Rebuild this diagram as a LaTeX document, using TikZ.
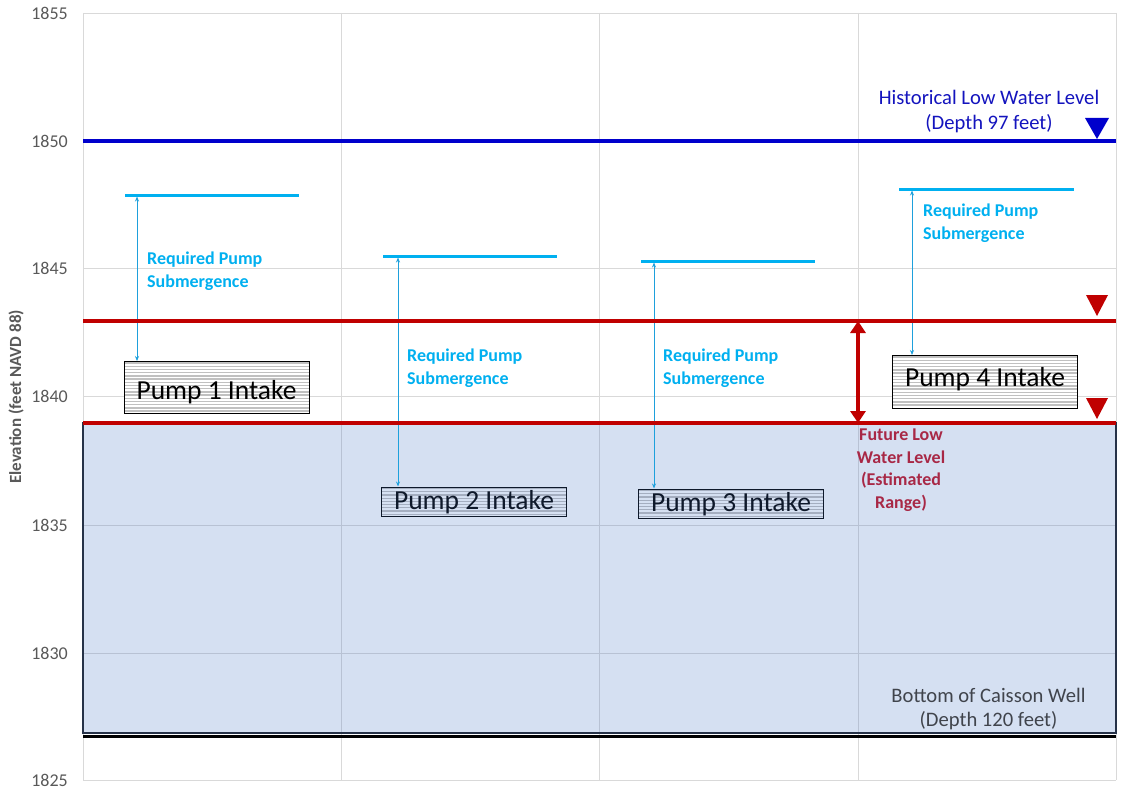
\documentclass[tikz,border=0pt]{standalone}
\usepackage{fontspec}
\setmainfont{Carlito}
\usetikzlibrary{arrows.meta}
\definecolor{gridc}{RGB}{217,217,217}
\definecolor{tickc}{RGB}{89,89,89}
\definecolor{cyanc}{RGB}{0,176,240}
\definecolor{arrowc}{RGB}{30,160,220}
\definecolor{redc}{RGB}{192,0,0}
\definecolor{bluec}{RGB}{0,0,204}
\definecolor{histc}{RGB}{20,20,190}
\definecolor{waterc}{RGB}{68,114,196}
\definecolor{futurec}{RGB}{168,40,70}
\definecolor{edgec}{RGB}{38,50,72}
\definecolor{bottomc}{RGB}{64,68,76}
\definecolor{hatchc}{RGB}{192,192,192}
\begin{document}
\begin{tikzpicture}[x=1pt,y=-1pt,
  grid/.style={gridc, line width=0.9pt},
  ticklabel/.style={anchor=east, inner sep=0pt, text=tickc, font=\fontsize{18}{20}\selectfont},
  pumpbox/.style={draw=black, line width=1pt, minimum width=185pt, inner sep=0pt, fill=white,
    font=\fontsize{27.5}{29}\selectfont,
    path picture={\foreach \k in {0,...,18}{\draw[hatchc,line width=1.3pt] ([yshift={-1.6pt-\k*3.2pt}]path picture bounding box.north west) -- ++(200,0);}}},
  subline/.style={cyanc, line width=3pt},
  subarrow/.style={arrowc, line width=0.8pt, {Stealth[length=5pt,width=4pt]}-{Stealth[length=5pt,width=4pt]}},
  sublabel/.style={anchor=west, inner sep=0pt, align=left, text=cyanc, font=\fontsize{18}{23}\selectfont\bfseries},
  redline/.style={redc, line width=4pt},
  tri/.style={fill=#1, draw=none}
]
\useasboundingbox (0,0) rectangle (1126,797);
\fill[white] (0,0) rectangle (1126,797);

% grid
\foreach \y in {13,141,268,396,525,653,780} \draw[grid] (83,\y) -- (1116,\y);
\foreach \x in {83,341,599,858,1116} \draw[grid] (\x,13) -- (\x,780);

% tick labels
\node[ticklabel] (t1855) at (68,13) {1855};
\node[ticklabel] (t1850) at (68,141) {1850};
\node[ticklabel] (t1845) at (68,268) {1845};
\node[ticklabel] (t1840) at (68,396) {1840};
\node[ticklabel] (t1835) at (68,525) {1835};
\node[ticklabel] (t1830) at (68,653) {1830};
\node[ticklabel] (t1825) at (68,780) {1825};
\node[rotate=90, inner sep=0pt, text=tickc, font=\fontsize{17}{19}\selectfont\bfseries] (ylab) at (16,397) {Elevation (feet NAVD 88)};

% submerged pump boxes
\node[pumpbox, text height=22pt, text depth=7pt] (pump2) at (474,501.5) {Pump 2 Intake};
\node[pumpbox, text height=22pt, text depth=7pt] (pump3) at (731,503.5) {Pump 3 Intake};

% water
\fill[waterc, fill opacity=0.22] (83,423) rectangle (1116,733);
\draw[edgec, line width=1.3pt] (83,423) rectangle (1116,733);
\coordinate (bl) at (83,736.5);
\coordinate (br) at (1116,736.5);
\draw[black, line width=3.5pt] (bl) -- (br);

% dry pump boxes
\node[pumpbox, text height=38pt, text depth=14pt] (pump1) at (216.5,387.5) {Pump 1 Intake};
\node[pumpbox, text height=31pt, text depth=22pt] (pump4) at (985,382) {Pump 4 Intake};

% required submergence lines
\coordinate (s1a) at (125,195); \coordinate (s1b) at (299,195);
\coordinate (s2a) at (383,256); \coordinate (s2b) at (557,256);
\coordinate (s3a) at (641,261); \coordinate (s3b) at (815,261);
\coordinate (s4a) at (899,189); \coordinate (s4b) at (1074,189);
\draw[subline] (s1a) -- (s1b);
\draw[subline] (s2a) -- (s2b);
\draw[subline] (s3a) -- (s3b);
\draw[subline] (s4a) -- (s4b);

\coordinate (a1) at (137,196.5); \coordinate (a2) at (398,257.5);
\coordinate (a3) at (654,262.5); \coordinate (a4) at (912,190.5);
\draw[subarrow] (a1) -- (a1 |- pump1.north);
\draw[subarrow] (a2) -- (a2 |- pump2.north);
\draw[subarrow] (a3) -- (a3 |- pump3.north);
\draw[subarrow] (a4) -- (a4 |- pump4.north);

\node[sublabel] (l1) at (147,271) {Required Pump\\Submergence};
\node[sublabel] (l2) at (407,368) {Required Pump\\Submergence};
\node[sublabel] (l3) at (663,368) {Required Pump\\Submergence};
\node[sublabel] (l4) at (923,223) {Required Pump\\Submergence};

% red levels
\coordinate (r1a) at (83,321); \coordinate (r1b) at (1116,321);
\coordinate (r2a) at (83,423); \coordinate (r2b) at (1116,423);
\draw[redline] (r1a) -- (r1b);
\draw[redline] (r2a) -- (r2b);
\coordinate (ra) at (858,321); \coordinate (rb) at (858,423);
\draw[redc, line width=4pt, {Triangle[width=15pt,length=12pt]}-{Triangle[width=15pt,length=12pt]}] (ra) -- (rb);
\fill[tri=redc] (1086,295) -- (1108,295) -- (1097,316) -- cycle;
\fill[tri=redc] (1086,398) -- (1108,398) -- (1097,419) -- cycle;

% blue level
\coordinate (ba) at (83,141); \coordinate (bb) at (1116,141);
\draw[bluec, line width=4pt] (ba) -- (bb);
\fill[tri=bluec] (1085,118) -- (1109,118) -- (1097,139) -- cycle;

% labels
\node[align=center, inner sep=0pt, text=histc, font=\fontsize{20.6}{25}\selectfont] (hist) at (989,111.5) {Historical Low Water Level\\(Depth 97 feet)};
\node[align=center, inner sep=0pt, text=futurec, font=\fontsize{18}{22.5}\selectfont\bfseries] (fut) at (901,470) {Future Low\\Water Level\\(Estimated\\Range)};
\node[align=center, inner sep=0pt, text=bottomc, font=\fontsize{20.6}{24}\selectfont] (bot) at (988.5,709) {Bottom of Caisson Well\\(Depth 120 feet)};
\end{tikzpicture}
\end{document}
